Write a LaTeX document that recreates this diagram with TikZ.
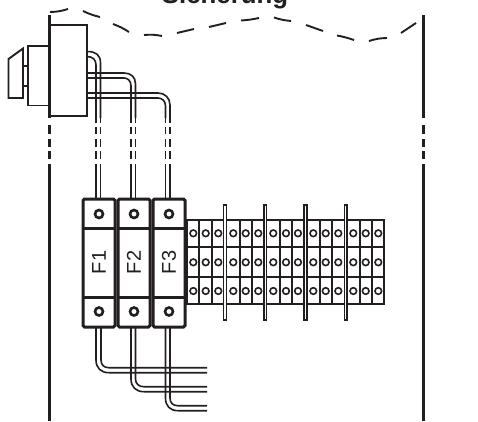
\documentclass[tikz,border=0pt]{standalone}
\usepackage{fontspec}
\setmainfont{Liberation Sans}
\definecolor{ink}{HTML}{231F20}
\tikzset{
  wall/.style={draw=ink,line width=2.3pt},
  wave/.style={draw=ink,line width=1.9pt},
  body/.style={draw=ink,line width=1.9pt,fill=white},
  pipe/.style={draw=ink,line width=1.6pt},
  fusebox/.style={draw=ink,line width=3pt,fill=white,rounded corners=1.5pt},
  fuseline/.style={draw=ink,line width=2.6pt},
  screw/.style={draw=ink,line width=2.6pt,fill=white},
  cell/.style={draw=ink,line width=2pt},
  hole/.style={draw=ink,line width=1.6pt,fill=white},
  rail/.style={draw=ink,line width=1.4pt,fill=white},
  fuselabel/.style={rotate=90,font=\fontsize{20}{20}\selectfont,text=ink,inner sep=0pt}
}
\begin{document}
\begin{tikzpicture}[x=1pt,y=-1pt]
\useasboundingbox (0,0) rectangle (478,421);
\clip (0,0) rectangle (478,421);
\fill[white] (0,0) rectangle (478,421);
% title
\node[anchor=base,font=\bfseries\fontsize{25.8}{26}\selectfont,text=ink,inner sep=0pt] (title) at (225,3) {Sicherung};
% wave
\foreach \a/\b/\c/\d/\e in {50/12/68/9/-8, 83/11/100/17/-6, 113/24/129/32/6, 144/35/162/36/8, 177/33/194/29/0, 209/27/226/23/0, 241/20.5/259/18/-4, 274/17.5/291/21/-6, 306/25/323/31/0, 337/35.5/354/40/4, 369/41/387/38/8, 401/33/416/23/0}
  \draw[wave] (\a,\b) to[bend left=\e] (\c,\d);
% walls
\foreach \x in {49.5,423.5}{
  \draw[wall] (\x,15) -- (\x,118);
  \draw[wall] (\x,125) -- (\x,134);
  \draw[wall] (\x,139) -- (\x,147);
  \draw[wall] (\x,151) -- (\x,159);
  \draw[wall] (\x,164) -- (\x,421);
}
% upper pipes
\draw[pipe] (87,51.5) .. controls (96,51.5) and (100.5,55) .. (100.5,63) -- (100.5,118);
\draw[pipe] (87,56.5) .. controls (93,56.5) and (96,60) .. (96,65) -- (96,118);
\draw[pipe] (87,73) -- (124,73) .. controls (131,73) and (135.5,77) .. (135.5,84) -- (135.5,118);
\draw[pipe] (87,78) -- (124,78) .. controls (128,78) and (131,81) .. (131,86) -- (131,118);
\draw[pipe] (87,93) -- (158,93) .. controls (165,93) and (170,98) .. (170,105) -- (170,118);
\draw[pipe] (87,98) -- (158,98) .. controls (162,98) and (165.5,101) .. (165.5,106) -- (165.5,118);
\foreach \x in {96,100.5,131,135.5,165.5,170}{
  \draw[pipe] (\x,118) -- (\x,123);
  \draw[pipe] (\x,127) -- (\x,134);
  \draw[pipe] (\x,139) -- (\x,147);
  \draw[pipe] (\x,151) -- (\x,159);
  \draw[pipe] (\x,164) -- (\x,200);
}
% switch
\draw[body] (50,25) rectangle (87,116);
\draw[body] (28,46) rectangle (49,105.5);
\draw[body] (23,66) rectangle (28,86);
\draw[body] (8.5,59) -- (23,48.5) -- (23,98) -- (8.5,98) -- cycle;
% lower pipes
\draw[pipe] (96,327) -- (96,360) .. controls (96,368) and (101,372.7) .. (109,372.7) -- (207,372.7);
\draw[pipe] (101,327) -- (101,360) .. controls (101,365) and (104,367.7) .. (109,367.7) -- (207,367.7);
\draw[pipe] (131,327) -- (131,379) .. controls (131,387) and (136,391.7) .. (144,391.7) -- (207,391.7);
\draw[pipe] (135.5,327) -- (135.5,379) .. controls (135.5,384) and (139,386.7) .. (144,386.7) -- (207,386.7);
\draw[pipe] (165.5,327) -- (165.5,398) .. controls (165.5,406) and (170,410.7) .. (178,410.7) -- (207,410.7);
\draw[pipe] (170,327) -- (170,398) .. controls (170,403) and (173,405.7) .. (178,405.7) -- (207,405.7);
% terminal block
\draw[cell] (186.5,220) rectangle (384,304);
\draw[cell] (186.5,247) -- (384,247);
\draw[cell] (186.5,277) -- (384,277);
\foreach \x in {199.3,212,239.5,252,279.5,292,319.5,332,359.5,372}
  \draw[cell] (\x,220) -- (\x,304);
\foreach \x in {225,265.3,305.5,345.7}
  \draw[rail] (\x-1.4,205) rectangle (\x+1.4,320);
\foreach \x in {193.3,205.7,218.3,233.3,245.7,258.3,273.3,286,298,313.3,325.7,338.3,353.3,365.7,378.3}
  \foreach \y in {233.3,262.3,291}
    \draw[hole] (\x,\y) circle (3.3);
% fuses
\foreach \n/\l/\r in {1/83/115,2/118/150,3/153/185}{
  \pgfmathsetmacro{\m}{(\l+\r)/2}
  \draw[fusebox] (\l,199) rectangle (\r,327);
  \draw[fuseline] (\l,228.5) -- (\r,228.5);
  \draw[fuseline] (\l,297.5) -- (\r,297.5);
  \draw[screw] (\m,214) circle (4);
  \draw[screw] (\m,311.5) circle (4);
  \node[fuselabel] (f\n) at (\m,262.5) {F\n};
}
\end{tikzpicture}
\end{document}
